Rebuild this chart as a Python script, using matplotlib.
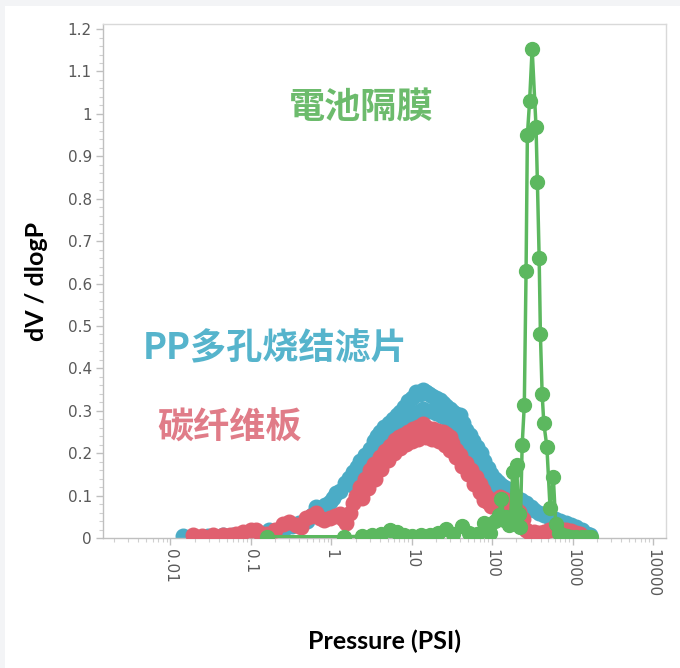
import matplotlib
matplotlib.use('Agg')
import matplotlib.pyplot as plt
from matplotlib.patches import Rectangle
from matplotlib.ticker import LogLocator, MultipleLocator, NullFormatter

# PP porous sintered filter (blue)
pp_p = [0.0145, 0.029, 0.045, 0.06, 0.08, 0.10, 0.13, 0.17, 0.21, 0.26, 0.32, 0.40,
        0.50, 0.58, 0.65, 0.75, 0.83, 0.95, 1.05, 1.16, 1.3, 1.47, 1.65, 1.85,
        2.06, 2.3, 2.6, 3.0, 3.4, 3.7, 4.0, 4.5, 5.2, 5.9, 6.5, 7.1, 8.0, 9.0,
        10.0, 11.4, 12.5, 13.8, 15.2, 16.5, 18.0, 20, 22.3, 24.5, 27, 30, 33, 36,
        39.5, 43, 47, 52.5, 58, 65, 73, 80, 89, 98, 108, 118, 130, 140, 157, 175,
        200, 230, 265, 300, 330, 380, 440, 510, 600, 700, 830, 950, 1100, 1320,
        1500, 1630]
pp_v = [0.004, 0.005, 0.006, 0.007, 0.008, 0.010, 0.012, 0.020, 0.016, 0.022, 0.028, 0.035,
        0.040, 0.055, 0.072, 0.068, 0.078, 0.085, 0.095, 0.105, 0.112, 0.130, 0.142, 0.155,
        0.168, 0.182, 0.196, 0.211, 0.228, 0.240, 0.250, 0.262, 0.272, 0.280, 0.290, 0.298, 0.310, 0.322,
        0.330, 0.345, 0.340, 0.350, 0.345, 0.340, 0.336, 0.330, 0.325, 0.318, 0.312, 0.305, 0.298, 0.292,
        0.290, 0.272, 0.255, 0.242, 0.228, 0.214, 0.200, 0.182, 0.165, 0.150, 0.140, 0.133, 0.125, 0.120, 0.115, 0.105,
        0.097, 0.090, 0.082, 0.072, 0.066, 0.060, 0.055, 0.050, 0.045, 0.040, 0.035, 0.030, 0.025, 0.018,
        0.010, 0.006]
# scattered lower readings of the same sample
pp_low_p = [1.8, 2.2, 2.7, 3.2, 4.0, 5.0, 6.0, 7.0, 8.2, 10, 12, 14, 17, 20, 24, 28,
            33, 40, 47, 55, 65, 75, 86, 100, 115, 135]
pp_low_v = [0.125, 0.145, 0.165, 0.185, 0.215, 0.238, 0.255, 0.268, 0.28, 0.29, 0.298, 0.305,
            0.30, 0.295, 0.288, 0.278, 0.265, 0.248, 0.228, 0.208, 0.186, 0.165, 0.145, 0.125,
            0.108, 0.095]

# carbon fibre board (red)
cf_p = [0.019, 0.025, 0.034, 0.045, 0.055, 0.065, 0.08, 0.10, 0.115, 0.13, 0.16, 0.20,
        0.25, 0.30, 0.36, 0.42, 0.49, 0.56, 0.65, 0.72, 0.82, 0.95, 1.1, 1.27,
        1.4, 1.54, 1.7, 1.86, 2.05, 2.26, 2.6, 3.0, 3.4, 4.0, 4.6, 5.3, 6.2, 7.0,
        7.8, 9.0, 10.4, 12.0, 13.8, 15.0, 16.5, 18.4, 21, 24.6, 27, 29.5, 32, 35.5,
        40, 47, 54, 63, 70, 76, 83, 89, 98, 110, 125, 140, 150, 165, 185, 200,
        218, 240, 265, 290, 330, 380, 440, 510, 600, 700, 830, 950, 1100, 1220]
cf_v = [0.006, 0.005, 0.007, 0.006, 0.008, 0.010, 0.015, 0.020, 0.018, 0.012, 0.010, 0.018,
        0.032, 0.038, 0.030, 0.025, 0.048, 0.052, 0.058, 0.048, 0.042, 0.046, 0.052, 0.057,
        0.045, 0.035, 0.060, 0.082, 0.100, 0.121, 0.140, 0.160, 0.175, 0.191, 0.205, 0.218, 0.230, 0.238,
        0.243, 0.250, 0.256, 0.262, 0.268, 0.262, 0.255, 0.258, 0.252, 0.250, 0.245, 0.238, 0.225, 0.208,
        0.195, 0.176, 0.160, 0.144, 0.128, 0.113, 0.098, 0.085, 0.075, 0.090, 0.097, 0.092, 0.088, 0.075, 0.070, 0.068,
        0.062, 0.045, 0.020, 0.015, 0.013, 0.012, 0.015, 0.018, 0.020, 0.022, 0.019, 0.016, 0.012, 0.010]
cf_low_p = [2.4, 2.9, 3.5, 4.2, 5.0, 6.0, 7.2, 8.5, 10, 12, 15, 18, 22, 26, 30,
            36, 42, 50, 60, 70, 80]
cf_low_v = [0.095, 0.118, 0.14, 0.162, 0.185, 0.2, 0.212, 0.222, 0.228, 0.234, 0.238, 0.234,
            0.228, 0.22, 0.208, 0.19, 0.17, 0.15, 0.128, 0.108, 0.09]

# battery separator (green)
sep_p = [0.16, 1.45, 2.4, 3.2, 4.2, 5.3, 6.5, 8.0, 10, 13, 17, 21, 27, 33, 42, 52, 65,
         80, 95, 110, 122, 130, 140, 150, 160, 170, 180, 190, 201, 214, 224, 236,
         251, 264, 274, 292, 314, 351, 365, 384, 398, 418, 439, 479, 525, 576, 617,
         680, 760, 850, 950, 1100, 1300, 1500, 1700]
sep_v = [0.003, 0.003, 0.004, 0.006, 0.010, 0.018, 0.015, 0.008, 0.005, 0.006, 0.006, 0.012, 0.022, 0.010, 0.028, 0.012, 0.010,
         0.035, 0.012, 0.040, 0.055, 0.092, 0.042, 0.050, 0.030, 0.050, 0.155, 0.040, 0.173, 0.056, 0.025, 0.219,
         0.314, 0.630, 0.950, 1.030, 1.154, 0.970, 0.840, 0.660, 0.480, 0.340, 0.270, 0.215, 0.070, 0.143, 0.033,
         0.012, 0.006, 0.004, 0.003, 0.003, 0.002, 0.002, 0.002]

y_ticks = [0, 0.1, 0.2, 0.3, 0.4, 0.5, 0.6, 0.7, 0.8, 0.9, 1.0, 1.1, 1.2]
x_ticks = [0.01, 0.1, 1, 10, 100, 1000, 10000]
x_labels = ['0.01', '0.1', '1', '10', '100', '1000', '10000']

blue = '#4bacc6'
red = '#e0606f'
green = '#5cb85f'

W, H = 680, 668
fig = plt.figure(figsize=(W / 100, H / 100), dpi=100, facecolor='#f3f4f6')
fig.patches.append(Rectangle((5 / W, 0), 1, 1 - 6 / H, transform=fig.transFigure,
                             facecolor='white', edgecolor='none', zorder=-1))

ax = fig.add_axes([103 / W, 1 - 538 / H, (666 - 103) / W, (538 - 24) / H])
ax.set_xscale('log')
ax.set_xlim(0.00145, 14500)
ax.set_ylim(0, 1.212)

ax.plot(pp_low_p, pp_low_v, 'o', color=blue, ms=10.5, zorder=2)
ax.plot(pp_p, pp_v, '-o', color=blue, ms=10.5, lw=1.5, zorder=2)
ax.plot(cf_low_p, cf_low_v, 'o', color=red, ms=10.5, zorder=3)
ax.plot(cf_p, cf_v, '-o', color=red, ms=10.5, lw=1.5, zorder=3)
ax.plot(sep_p, sep_v, '-o', color=green, ms=10, lw=2.5, zorder=4)

ax.set_yticks(y_ticks)
ax.set_yticklabels(['%g' % v for v in y_ticks])
ax.yaxis.set_minor_locator(MultipleLocator(0.02))
ax.set_xticks(x_ticks)
ax.set_xticklabels(x_labels, rotation=-90)
ax.xaxis.set_minor_locator(LogLocator(base=10, subs=range(2, 10), numticks=20))
ax.xaxis.set_minor_formatter(NullFormatter())

ax.tick_params(which='major', length=5, width=1, color='#bfbfbf',
               labelcolor='#595959', labelsize=11, pad=3)
ax.tick_params(which='minor', length=3, width=0.8, color='#d0d0d0')
for name, sp in ax.spines.items():
    sp.set_color('#bfbfbf' if name in ('left', 'bottom') else '#d9d9d9')
    sp.set_linewidth(1)

fig.text(36 / W, 1 - 281 / H, 'dV / dlogP', rotation=90, ha='center', va='center',
         fontsize=18, fontweight='bold', family='Lato')
fig.text(385 / W, 1 - 641 / H, 'Pressure (PSI)', ha='center', va='center',
         fontsize=18, fontweight='bold', family='Lato')

# sample names placed in pixel positions on the figure
fig.text(361 / W, 1 - 107 / H, '電池隔膜', fontsize=26, color='#6cbb6c',
         family=['Noto Sans CJK TC', 'DejaVu Sans'], fontweight='bold', ha='center', va='center')
fig.text(275 / W, 1 - 349 / H, 'PP多孔烧结滤片', fontsize=26, color='#56b4cc',
         family=['Noto Sans CJK SC', 'DejaVu Sans'], fontweight='bold', ha='center', va='center')
fig.text(230 / W, 1 - 428 / H, '碳纤维板', fontsize=26, color='#e07c88',
         family=['Noto Sans CJK SC', 'DejaVu Sans'], fontweight='bold', ha='center', va='center')

fig.savefig('out.png', dpi=100, facecolor=fig.get_facecolor())
